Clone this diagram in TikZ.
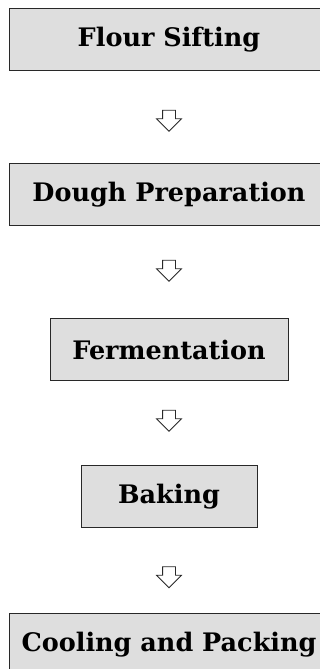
\documentclass[tikz,border=0pt]{standalone}
\usepackage{fontspec}
\setmainfont{DejaVu Serif}
\usetikzlibrary{shapes.arrows}
\definecolor{boxgray}{RGB}{222,222,222}
\definecolor{edgegray}{RGB}{40,40,40}
\tikzstyle{stage}=[rectangle, draw=edgegray, fill=boxgray, line width=1pt, minimum height=62pt, inner sep=0pt, font=\bfseries\fontsize{25.5}{30}\selectfont]
\tikzstyle{flow}=[single arrow, draw=edgegray, fill=white, line width=0.8pt, rotate=-90, single arrow head extend=6pt, single arrow tip angle=90, minimum height=21pt, inner xsep=0pt, inner ysep=6pt]

\begin{document}
\begin{tikzpicture}[x=1pt, y=1pt]
    \useasboundingbox (0,0) rectangle (320,669);
    \node[stage, minimum width=320pt] (sift) at (169, 629.5) {Flour Sifting};
    \node[stage, minimum width=320pt] (dough) at (169, 474) {Dough Preparation};
    \node[stage, minimum width=238pt] (ferment) at (169, 319) {Fermentation};
    \node[stage, minimum width=176pt] (bake) at (169, 172) {Baking};
    \node[stage, minimum width=320pt] (pack) at (169, 24) {Cooling and Packing};
    % arrows between the stages
    \node[flow] (a1) at (169, 551.5) {};
    \node[flow] (a2) at (169, 401.5) {};
    \node[flow] (a3) at (169, 251.5) {};
    \node[flow] (a4) at (169, 95) {};
\end{tikzpicture}
\end{document}
